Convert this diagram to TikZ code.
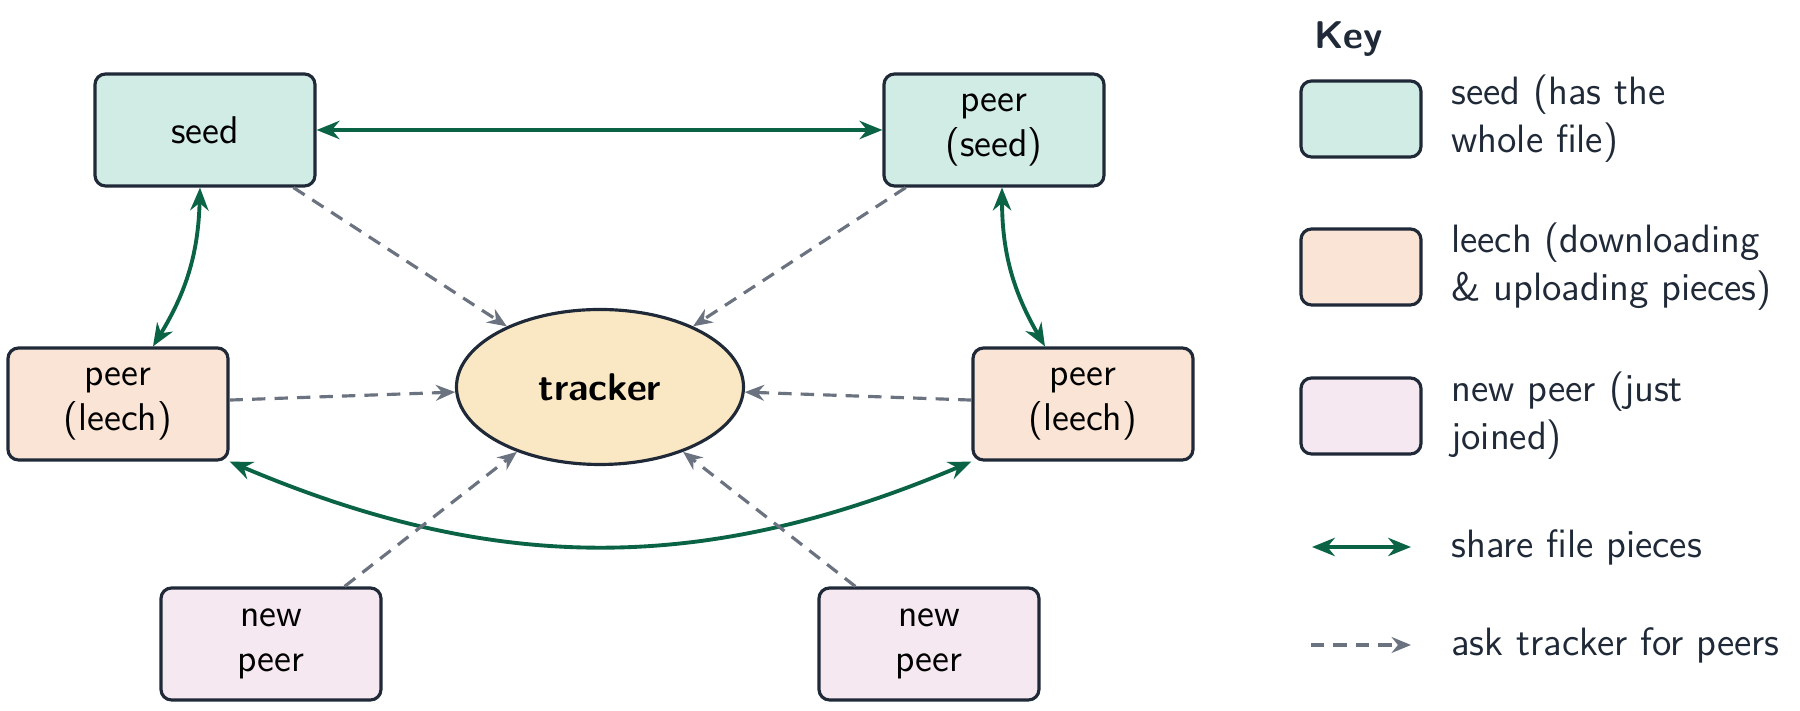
\documentclass[tikz,border=0pt]{standalone}
\usetikzlibrary{arrows.meta,shapes.geometric,positioning}
\definecolor{seedfill}{HTML}{D1ECE5}
\definecolor{leechfill}{HTML}{F9E4D5}
\definecolor{newfill}{HTML}{F5E8F0}
\definecolor{trackerfill}{HTML}{FAE8C4}
\definecolor{edgedark}{HTML}{1F2937}
\definecolor{sharegreen}{HTML}{0B6345}
\definecolor{askgray}{HTML}{6B7280}
\definecolor{keyink}{HTML}{1F2937}
\tikzset{
every node/.style={font=\sffamily\fontsize{11}{13}\selectfont},
peerbox/.style={draw=edgedark, line width=0.9pt, rounded corners=3pt, minimum width=2.2cm, minimum height=1.12cm, align=center},
seedbox/.style={peerbox, fill=seedfill},
leechbox/.style={peerbox, fill=leechfill},
newbox/.style={peerbox, fill=newfill},
share/.style={<->, >={Stealth[length=6.5pt,width=5.2pt]}, draw=sharegreen, line width=1.1pt},
ask/.style={->, >={Stealth[length=5.5pt,width=4.5pt]}, draw=askgray, line width=0.9pt, dash pattern=on 3.8pt off 2.6pt},
keytext/.style={anchor=west, align=left, text=keyink, font=\sffamily\fontsize{11.25}{13.6}\selectfont},
keybox/.style={minimum width=1.2cm, minimum height=0.76cm},
}

\begin{document}
\begin{tikzpicture}
    \useasboundingbox (-6.00,-3.24) rectangle (12.00,3.87);

    \node[ellipse, draw=edgedark, line width=0.9pt, fill=trackerfill, minimum width=2.87cm, minimum height=1.55cm, font=\sffamily\bfseries\fontsize{11}{13}\selectfont] (tracker) at (0,0) {tracker};
    \node[seedbox] (seed) at (-3.95,2.57) {seed};
    \node[seedbox] (peerseed) at (3.94,2.57) {peer\\(seed)};
    \node[leechbox] (leechL) at (-4.82,-0.17) {peer\\(leech)};
    \node[leechbox] (leechR) at (4.83,-0.17) {peer\\(leech)};
    \node[newbox] (newL) at (-3.29,-2.57) {new\\peer};
    \node[newbox] (newR) at (3.29,-2.57) {new\\peer};

    \draw[share] (seed) -- (peerseed);
    \draw[share] ([xshift=-0.05cm]seed.south) to[bend left=15] ([xshift=0.35cm]leechL.north);
    \draw[share] ([xshift=0.08cm]peerseed.south) to[bend right=15] ([xshift=-0.38cm]leechR.north);
    \draw[share] (leechL.south east) to[bend right=23] (leechR.south west);

    \foreach \n in {seed,peerseed,leechL,leechR,newL,newR}
        \draw[ask] (\n) -- (tracker);

    % key
    \node[anchor=west, text=keyink, font=\sffamily\bfseries\fontsize{11}{13}\selectfont] (keytitle) at (7.02,3.48) {Key};
    \node[seedbox, keybox] (keyseed) at (7.61,2.68) {};
    \node[keytext] (keyseedtxt) at (8.39,2.68) {seed (has the\\whole file)};
    \node[leechbox, keybox] (keyleech) at (7.61,1.20) {};
    \node[keytext] (keyleechtxt) at (8.39,1.20) {leech (downloading\\\& uploading pieces)};
    \node[newbox, keybox] (keynew) at (7.61,-0.29) {};
    \node[keytext] (keynewtxt) at (8.39,-0.29) {new peer (just\\joined)};
    \coordinate (shareA) at (7.12,-1.60);
    \coordinate (shareB) at (8.11,-1.60);
    \draw[share] (shareA) -- (shareB);
    \node[keytext] (keysharetxt) at (8.39,-1.60) {share file pieces};
    \coordinate (askA) at (7.11,-2.58);
    \coordinate (askB) at (8.11,-2.58);
    \draw[ask] (askA) -- (askB);
    \node[keytext] (keyasktxt) at (8.39,-2.58) {ask tracker for peers};

\end{tikzpicture}
\end{document}
